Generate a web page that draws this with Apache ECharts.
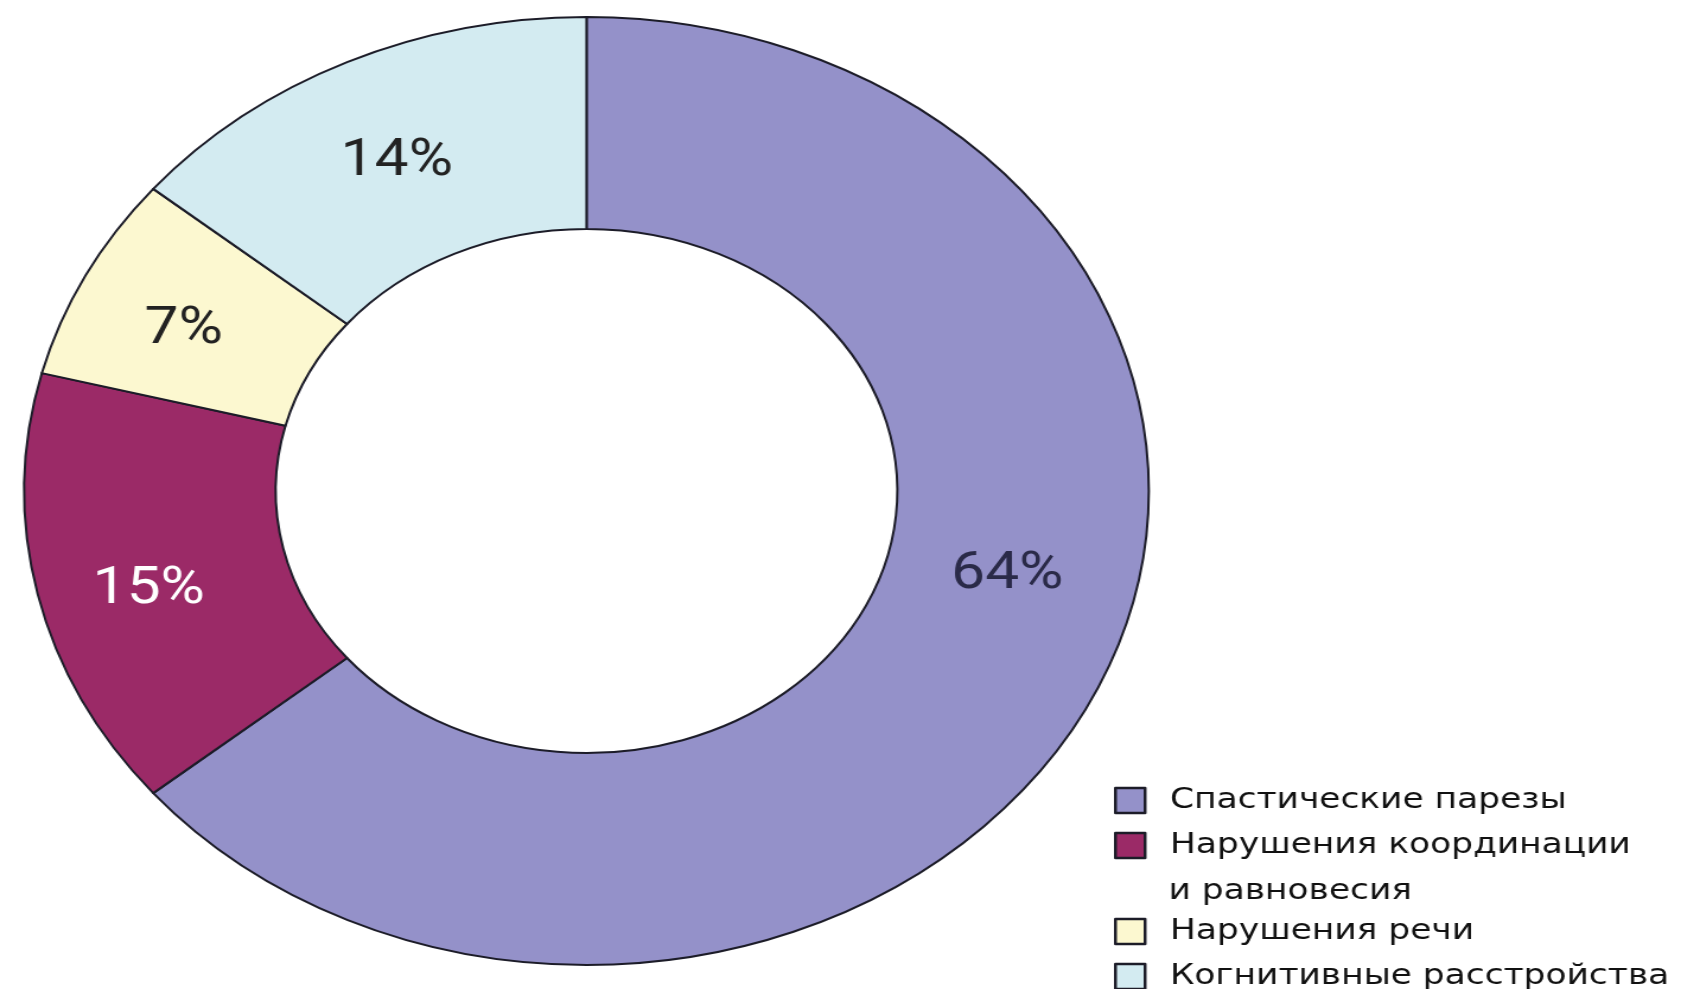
<!DOCTYPE html>
<html>
<head>
<meta charset="utf-8">
<script src="https://cdn.jsdelivr.net/npm/echarts@6/dist/echarts.min.js"></script>
<style>
  html, body { margin: 0; padding: 0; background: #ffffff; overflow: hidden; }
  #wrap { width: 1681px; height: 989px; position: relative; overflow: hidden; }
  #chart { width: 1417px; height: 989px; transform-origin: 0 0; transform: scaleX(1.18631); }
</style>
</head>
<body>
<div id="wrap"><div id="chart"></div></div>
<script>
const categories = [
  'Спастические парезы',
  'Нарушения координации',
  'Нарушения речи',
  'Когнитивные расстройства'
];
const legendContinuation = 'и равновесия';
const values = [64, 15, 7, 14];
const colors = ['#9491c9', '#9b2a67', '#fcf8d0', '#d3ebf1'];
const labelColors = ['#2a2a48', '#ffffff', '#222222', '#222222'];

const chart = echarts.init(document.getElementById('chart'), null, { renderer: 'canvas' });

const labelShift = [[19, -74], [-7, 18], [-9, 8], [-2, 7]];

const legendBase = {
  orient: 'vertical',
  left: 939,
  padding: 0,
  itemGap: 16,
  itemWidth: 25,
  itemHeight: 25,
  height: 300,
  icon: 'rect',
  selectedMode: false,
  itemStyle: { borderColor: '#1c1c28', borderWidth: 2.5 },
  textStyle: {
    fontFamily: 'DejaVu Sans',
    fontSize: 29,
    lineHeight: 28,
    color: '#111111',
    padding: [0, 0, 0, 16]
  }
};

const option = {
  animation: false,
  legend: [
    Object.assign({}, legendBase, { top: 786, data: [categories[0], categories[1]] }),
    Object.assign({}, legendBase, { top: 917, data: [categories[2], categories[3]] })
  ],
  graphic: [{
    type: 'text',
    left: 985,
    top: 877,
    silent: true,
    style: {
      text: legendContinuation,
      font: '29px "DejaVu Sans"',
      fill: '#111111'
    }
  }],
  series: [{
    type: 'pie',
    center: [494.4, 491],
    radius: [262, 474],
    startAngle: 90,
    clockwise: true,
    silent: true,
    emphasis: { disabled: true },
    itemStyle: { borderColor: '#1c1c28', borderWidth: 2 },
    label: {
      show: true,
      position: 'inside',
      fontFamily: 'Roboto',
      fontSize: 51,
      formatter: function (p) { return p.value + '%'; }
    },
    labelLine: { show: false },
    labelLayout: function (params) {
      const s = labelShift[params.dataIndex];
      return { dx: s[0], dy: s[1] };
    },
    data: categories.map(function (c, i) {
      return {
        name: c,
        value: values[i],
        itemStyle: { color: colors[i] },
        label: { color: labelColors[i] }
      };
    })
  }]
};
chart.setOption(option);
</script>
</body>
</html>
